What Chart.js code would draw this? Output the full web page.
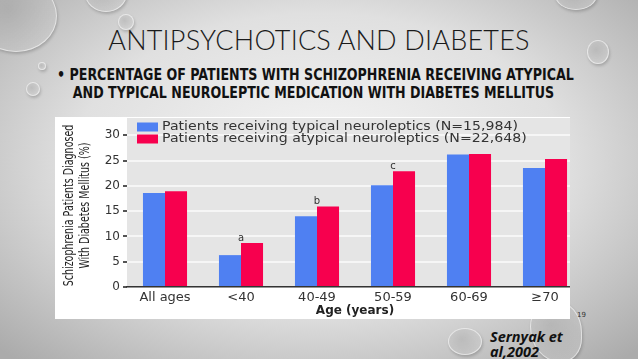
<!DOCTYPE html>
<html>
<head>
<meta charset="utf-8">
<script src="https://cdn.jsdelivr.net/npm/chart.js@4"></script>
<style>
  html, body { margin: 0; padding: 0; }
  body {
    width: 638px; height: 359px; overflow: hidden; position: relative;
    background: radial-gradient(ellipse 70% 75% at 50% 45%, #f5f5f5 0%, #e0e0e0 55%, #ababab 100%);
    font-family: "DejaVu Sans", sans-serif;
  }
  .drop { position: absolute; border-radius: 50%; border: 1.5px solid rgba(255,255,255,0.55);
    background: radial-gradient(circle at 40% 40%, rgba(160,160,160,0.35), rgba(225,225,225,0.25));
    box-shadow: 1px 2px 3px rgba(0,0,0,0.18); }
  #title { position: absolute; left: 0; width: 638px; top: 23px; text-align: center;
    font-family: "Lato", "DejaVu Sans", sans-serif; font-weight: 300; font-size: 27px;
    letter-spacing: 0.2px; color: #1a1a1a; }
  #sub { position: absolute; left: 57px; top: 66px; white-space: nowrap;
    font-family: "DejaVu Sans", sans-serif; font-weight: bold;
    font-size: 16px; line-height: 18px; color: #111;
    transform: scaleX(0.79); transform-origin: left top; }
  #sub .l2 { padding-left: 20px; }
  #panel { position: absolute; left: 55px; top: 117px; width: 515px; height: 202px;
    background: #fff; overflow: hidden; }
  #wrap { position: absolute; left: 0; top: 1px; width: 528px; height: 200px; }
  #ref { position: absolute; left: 490px; top: 329px; font-family: "Open Sans", "DejaVu Sans", sans-serif;
    font-weight: bold; font-style: italic; font-size: 14.5px; line-height: 15px; color: #111; }
  #pg { position: absolute; left: 577px; top: 311px; font-size: 7px; color: #333; }
</style>
</head>
<body>
<div class="drop" style="left:-25px;top:-20px;width:80px;height:70px;"></div>
<div class="drop" style="left:85px;top:-25px;width:40px;height:35px;"></div>
<div class="drop" style="left:118px;top:14px;width:14px;height:14px;"></div>
<div class="drop" style="left:38px;top:62px;width:6px;height:6px;"></div>
<div class="drop" style="left:26px;top:82px;width:12px;height:12px;"></div>
<div class="drop" style="left:587px;top:40px;width:20px;height:22px;"></div>
<div class="drop" style="left:555px;top:-20px;width:40px;height:28px;"></div>
<div class="drop" style="left:448px;top:328px;width:32px;height:25px;"></div>
<div class="drop" style="left:530px;top:300px;width:50px;height:60px;border-radius:45% 55% 40% 60%;"></div>

<div id="title">ANTIPSYCHOTICS AND DIABETES</div>
<div id="sub">
  <div>• PERCENTAGE OF PATIENTS WITH SCHIZOPHRENIA RECEIVING ATYPICAL</div>
  <div class="l2">AND TYPICAL NEUROLEPTIC MEDICATION WITH DIABETES MELLITUS</div>
</div>
<div id="panel"><div id="wrap"><canvas id="chart" width="528" height="200"></canvas></div></div>
<div id="pg">19</div>
<div id="ref">Sernyak et<br>al,2002</div>

<script>
const categories = ['All ages', '<40', '40-49', '50-59', '60-69', '\u226570'];
const typical = [18.6, 6.3, 14.0, 20.1, 26.2, 23.5];
const atypical = [18.9, 8.7, 15.9, 22.9, 26.3, 25.3];
const seriesLabels = ['Patients receiving typical neuroleptics (N=15,984)',
                      'Patients receiving atypical neuroleptics (N=22,648)'];
const notes = ['', 'a', 'b', 'c', '', ''];
const yTicks = [0, 5, 10, 15, 20, 25, 30];
const yTitle = ['Schizophrenia Patients Diagnosed', 'With Diabetes Mellitus (%)'];

const BLUE = '#4f80f2', RED = '#f7004e';

// gray plot background
const plotBg = {
  id: 'plotBg',
  beforeDraw(chart) {
    const { ctx, chartArea: a } = chart;
    ctx.save();
    ctx.fillStyle = '#e5e5e5';
    ctx.fillRect(a.left, a.top, a.right - a.left, a.bottom - a.top);
    ctx.restore();
  }
};

// legend inside the plot, letters above bars, narrow y title
const extras = {
  id: 'extras',
  afterDatasetsDraw(chart) {
    const { ctx, chartArea: a } = chart;
    const x = chart.scales.x, y = chart.scales.y;
    ctx.save();
    ctx.font = '12px "DejaVu Sans"';
    ctx.textBaseline = 'middle';
    // source legend text is wide-spaced, stretch it a bit
    const sx = 356 / ctx.measureText(chart.data.datasets[0].label).width;
    chart.data.datasets.forEach((ds, i) => {
      const cy = a.top + 9 + i * 12;
      ctx.fillStyle = ds.backgroundColor;
      ctx.fillRect(a.left + 10, cy - 4.5, 21, 9);
      ctx.fillStyle = '#333';
      ctx.save();
      ctx.translate(a.left + 35, cy);
      ctx.scale(sx, 1);
      ctx.fillText(ds.label, 0, 0);
      ctx.restore();
    });
    ctx.font = '10px "DejaVu Sans"';
    ctx.textAlign = 'center';
    notes.forEach((n, i) => {
      if (!n) return;
      ctx.fillText(n, x.getPixelForValue(i), y.getPixelForValue(atypical[i]) - 5);
    });
    // rotated, condensed axis title
    ctx.fillStyle = '#222';
    ctx.font = '14px "DejaVu Sans"';
    const cy = (a.top + a.bottom) / 2 + 3;
    yTitle.forEach((t, i) => {
      ctx.save();
      ctx.translate(14 + i * 16, cy);
      ctx.rotate(-Math.PI / 2);
      ctx.scale(0.68, 1);
      ctx.fillText(t, 0, 0);
      ctx.restore();
    });
    ctx.restore();
  }
};

new Chart(document.getElementById('chart'), {
  type: 'bar',
  data: {
    labels: categories,
    datasets: [
      { label: seriesLabels[0], data: typical, backgroundColor: BLUE },
      { label: seriesLabels[1], data: atypical, backgroundColor: RED }
    ]
  },
  options: {
    responsive: false,
    animation: false,
    events: [],
    categoryPercentage: 0.58,
    barPercentage: 1.0,
    layout: { padding: 0 },
    plugins: { legend: { display: false }, tooltip: { enabled: false } },
    scales: {
      x: {
        grid: { display: false, drawTicks: false },
        border: { color: '#333', width: 1.5 },
        ticks: { color: '#333', font: { family: 'DejaVu Sans', size: 13 }, padding: 3, maxRotation: 0, autoSkip: false },
        title: { display: true, text: 'Age (years)', color: '#222',
                 font: { family: 'DejaVu Sans', size: 12, weight: 'bold' }, padding: { top: 0, bottom: 0 } },
        afterFit(s) { s.height = 31; s.paddingLeft = 0; s.paddingRight = 0; }
      },
      y: {
        min: 0, max: 33.4,
        afterBuildTicks(s) { s.ticks = yTicks.map(v => ({ value: v })); },
        grid: { color: '#f6f6f6', lineWidth: 2, drawTicks: true, tickLength: 4, tickColor: '#555' },
        border: { display: false },
        ticks: { color: '#333', font: { family: 'DejaVu Sans', size: 12 }, padding: 3 },
        title: { display: false },
        afterFit(s) { s.width = 72; s.paddingTop = 0; s.paddingBottom = 0; }
      }
    }
  },
  plugins: [plotBg, extras]
});
</script>
</body>
</html>
